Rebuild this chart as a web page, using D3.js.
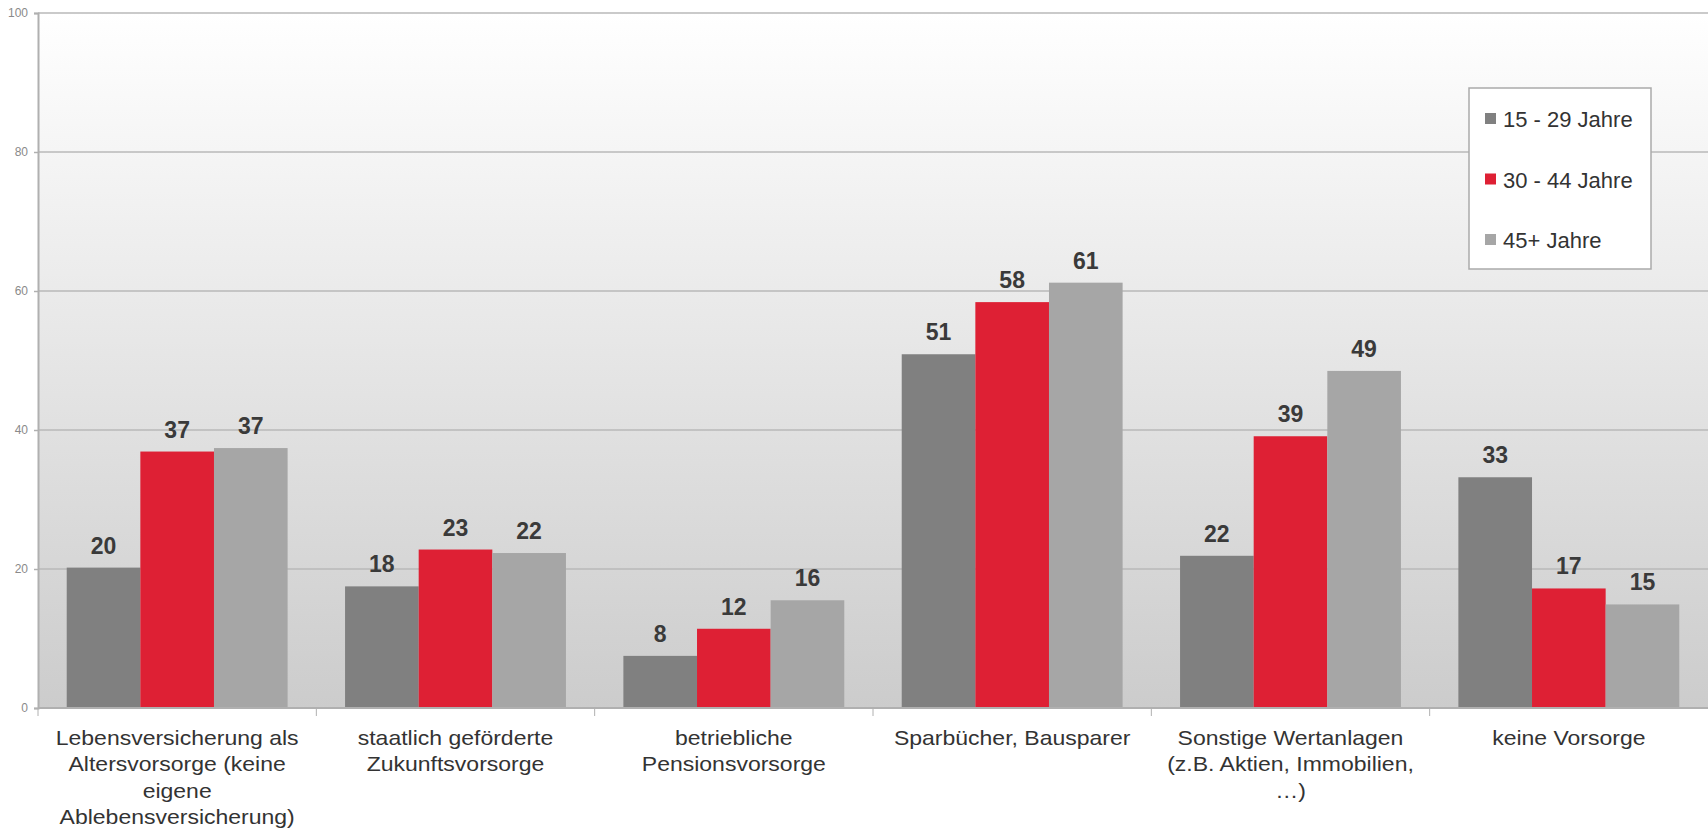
<!DOCTYPE html>
<html>
<head>
<meta charset="utf-8">
<script src="https://cdn.jsdelivr.net/npm/d3@7"></script>
<style>
  body { margin: 0; background: #fff; }
  svg { display: block; font-family: "Liberation Sans", Arial, sans-serif; }
</style>
</head>
<body>
<svg></svg>
<script>
// Data
var categories = [
	"Lebensversicherung als Altersvorsorge (keine eigene Ablebensversicherung)",
	"staatlich geförderte Zukunftsvorsorge",
	"betriebliche Pensionsvorsorge",
	"Sparbücher, Bausparer",
	"Sonstige Wertanlagen (z.B. Aktien, Immobilien, …)",
	"keine Vorsorge"
];
var seriesNames = ["15 - 29 Jahre", "30 - 44 Jahre", "45+ Jahre"];
var values_15_29 = [20.2, 17.5, 7.5, 50.9, 21.9, 33.2];
var values_30_44 = [36.9, 22.8, 11.4, 58.4, 39.1, 17.2];
var values_45 = [37.4, 22.3, 15.5, 61.2, 48.5, 14.9];
var labels_15_29 = ["20", "18", "8", "51", "22", "33"];
var labels_30_44 = ["37", "23", "12", "58", "39", "17"];
var labels_45 = ["37", "22", "16", "61", "49", "15"];
var yTicks = [0, 20, 40, 60, 80, 100];

var seriesValues = [values_15_29, values_30_44, values_45];
var seriesLabels = [labels_15_29, labels_30_44, labels_45];
var colors = ["#808080", "#de2034", "#a6a6a6"];

var width = 1708, height = 829;
var margin = { top: 13, right: 0, bottom: 121, left: 38 };

var svg = d3.select("svg")
	.attr("width", width)
	.attr("height", height);

// gradient background for plot area
var defs = svg.append("defs");
var grad = defs.append("linearGradient")
	.attr("id", "bg")
	.attr("x1", "0").attr("y1", "0")
	.attr("x2", "0").attr("y2", "1");
grad.append("stop").attr("offset", "0%").attr("stop-color", "#ffffff");
grad.append("stop").attr("offset", "100%").attr("stop-color", "#cccccc");

var x0 = d3.scaleBand()
	.domain(categories)
	.range([margin.left, width - margin.right])
	.paddingInner(0)
	.paddingOuter(0);

var x1 = d3.scaleBand()
	.domain(d3.range(seriesNames.length))
	.range([0, x0.bandwidth()])
	.paddingInner(0)
	.paddingOuter(0.39);

var y = d3.scaleLinear()
	.domain([0, 100])
	.range([height - margin.bottom, margin.top]);

svg.append("rect")
	.attr("x", margin.left)
	.attr("y", y(100))
	.attr("width", width - margin.right - margin.left)
	.attr("height", y(0) - y(100))
	.attr("fill", "url(#bg)");

// grid lines
svg.append("g")
	.selectAll("line")
	.data(yTicks.filter(function(d) { return d > 0; }))
	.enter().append("line")
		.attr("x1", margin.left)
		.attr("x2", width - margin.right)
		.attr("y1", function(d) { return y(d); })
		.attr("y2", function(d) { return y(d); })
		.attr("stroke", "#b9b9b9")
		.attr("stroke-width", 1.5);

// y axis
var yAxis = svg.append("g")
	.attr("transform", "translate(" + margin.left + ",0)")
	.call(d3.axisLeft(y).tickValues(yTicks).tickSize(4).tickPadding(6));
yAxis.select(".domain").attr("stroke", "#b0b0b0").attr("stroke-width", 2);
yAxis.selectAll(".tick line").attr("stroke", "#b0b0b0").attr("stroke-width", 1.5);
yAxis.selectAll(".tick text")
	.attr("fill", "#8a8a8a")
	.attr("font-size", "12px")
	.attr("font-family", "Liberation Sans, Arial, sans-serif");

// bars
var groups = svg.append("g")
	.selectAll("g")
	.data(categories)
	.enter().append("g")
		.attr("transform", function(d) { return "translate(" + x0(d) + ",0)"; });

function cells(d, i) {
	return seriesValues.map(function(s, k) { return { k: k, v: s[i], t: seriesLabels[k][i] }; });
}

groups.selectAll("rect")
	.data(cells)
	.enter().append("rect")
		.attr("x", function(d) { return x1(d.k); })
		.attr("width", x1.bandwidth())
		.attr("y", function(d) { return y(d.v); })
		.attr("height", function(d) { return y(0) - y(d.v); })
		.attr("fill", function(d) { return colors[d.k]; });

groups.selectAll("text")
	.data(cells)
	.enter().append("text")
		.attr("x", function(d) { return x1(d.k) + x1.bandwidth() / 2; })
		.attr("y", function(d) { return y(d.v) - 14; })
		.attr("text-anchor", "middle")
		.attr("font-size", "23px")
		.attr("font-weight", "bold")
		.attr("fill", "#3a3a3a")
		.text(function(d) { return d.t; });

// x axis
var xAxis = svg.append("g");
xAxis.append("line")
	.attr("x1", margin.left)
	.attr("x2", width - margin.right)
	.attr("y1", y(0))
	.attr("y2", y(0))
	.attr("stroke", "#b0b0b0")
	.attr("stroke-width", 2);
xAxis.selectAll(".xtick")
	.data(categories)
	.enter().append("line")
		.attr("class", "xtick")
		.attr("x1", function(d) { return x0(d); })
		.attr("x2", function(d) { return x0(d); })
		.attr("y1", y(0))
		.attr("y2", y(0) + 8)
		.attr("stroke", "#b0b0b0")
		.attr("stroke-width", 1);

// category labels: slightly wide lettering like the original
var labels = xAxis.selectAll(".xlabel")
	.data(categories)
	.enter().append("g")
		.attr("class", "xlabel")
		.attr("transform", function(d) { return "translate(" + (x0(d) + x0.bandwidth() / 2) + ",745) scale(1.15,1)"; })
	.append("text")
		.attr("x", 0)
		.attr("y", 0)
		.attr("text-anchor", "middle")
		.attr("font-size", "20px")
		.attr("fill", "#333");

labels.each(function(d) { wrap(d3.select(this), d, 228); });

function wrap(text, str, maxW)
{
	var words = str.split(" "), line = [];
	var tspan = text.append("tspan").attr("x", 0).attr("dy", 0);
	words.forEach(function(w) {
		line.push(w);
		tspan.text(line.join(" "));
		if (tspan.node().getComputedTextLength() > maxW && line.length > 1) {
			line.pop();
			tspan.text(line.join(" "));
			line = [w];
			tspan = text.append("tspan").attr("x", 0).attr("dy", 26.5).text(w);
		}
	});
}

// legend
var legend = svg.append("g")
	.attr("transform", "translate(1469,88)");
legend.append("rect")
	.attr("width", 182)
	.attr("height", 181)
	.attr("fill", "#fff")
	.attr("stroke", "#aaaaaa")
	.attr("stroke-width", 1.5);

var items = legend.selectAll(".item")
	.data(seriesNames)
	.enter().append("g")
		.attr("class", "item")
		.attr("transform", function(d, i) { return "translate(16," + (31 + i * 60.5) + ")"; });
items.append("rect")
	.attr("y", -6)
	.attr("width", 11)
	.attr("height", 11)
	.attr("fill", function(d, i) { return colors[i]; });
items.append("text")
	.attr("x", 18)
	.attr("y", 8)
	.attr("font-size", "22px")
	.attr("fill", "#333")
	.text(function(d) { return d; });
</script>
</body>
</html>
